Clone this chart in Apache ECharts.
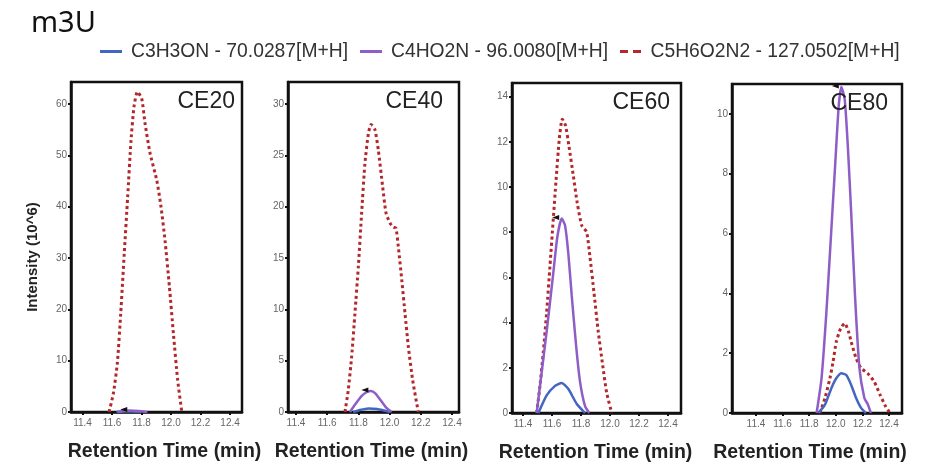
<!DOCTYPE html>
<html>
<head>
<meta charset="utf-8">
<script src="https://cdn.jsdelivr.net/npm/echarts@6/dist/echarts.min.js"></script>
<style>
  html, body { margin: 0; padding: 0; background: #fff; }
  #chart { width: 943px; height: 468px; }
</style>
</head>
<body>
<div id="chart"></div>
<script>
// Extracted ion chromatograms for m3U at four collision energies.
// Each trace is [retention time (min), intensity (10^6)].
const compoundNames = [
  'C3H3ON - 70.0287[M+H]',
  'C4HO2N - 96.0080[M+H]',
  'C5H6O2N2 - 127.0502[M+H]'
];
const panelLabels = ['CE20', 'CE40', 'CE60', 'CE80'];
const timeTicks = [11.4, 11.6, 11.8, 12.0, 12.2, 12.4];
const ce20Ticks = [0, 10, 20, 30, 40, 50, 60];
const ce40Ticks = [0, 5, 10, 15, 20, 25, 30];
const ce60Ticks = [0, 2, 4, 6, 8, 10, 12, 14];
const ce80Ticks = [0, 2, 4, 6, 8, 10];

// CE20
const ce20Blue = [[11.63, 0], [11.68, 0.12], [11.74, 0.12], [11.80, 0]];
const ce20Purple = [[11.64, 0], [11.68, 0.25], [11.72, 0.3], [11.78, 0.2], [11.84, 0]];
const ce20Red = [[11.58, 0], [11.609, 3.6], [11.636, 9.5], [11.659, 19.2], [11.683, 30.9],
  [11.706, 41.9], [11.729, 53.0], [11.749, 59.5], [11.772, 62.4], [11.801, 61.1],
  [11.824, 56.2], [11.858, 50.4], [11.903, 45.2], [11.932, 40.0], [11.959, 33.5],
  [11.989, 24.4], [12.016, 15.3], [12.045, 6.2], [12.073, 0]];

// CE40
const ce40Blue = [[11.767, 0], [11.81, 0.2], [11.864, 0.35], [11.92, 0.3], [11.97, 0.12], [12.003, 0]];
const ce40Purple = [[11.746, 0], [11.78, 0.75], [11.82, 1.55], [11.855, 1.95], [11.88, 2.05],
  [11.91, 1.8], [11.95, 1.0], [11.98, 0.4], [12.013, 0]];
const ce40Red = [[11.714, 0], [11.735, 2.1], [11.757, 5.4], [11.778, 9.6], [11.80, 14.2],
  [11.821, 19.4], [11.842, 24.2], [11.864, 27.1], [11.881, 28.0], [11.906, 27.5],
  [11.928, 25.5], [11.956, 21.9], [11.977, 19.4], [12.003, 18.4], [12.024, 18.0],
  [12.041, 17.9], [12.056, 16.1], [12.078, 12.9], [12.099, 9.6], [12.12, 6.4],
  [12.148, 3.1], [12.184, 0]];

// CE60
const ce60Blue = [[11.506, 0], [11.563, 0.78], [11.621, 1.2], [11.667, 1.33], [11.712, 1.07],
  [11.77, 0.41], [11.828, 0]];
const ce60Purple = [[11.494, 0], [11.563, 3.6], [11.609, 6.2], [11.637, 7.8], [11.667, 8.6],
  [11.69, 8.3], [11.712, 7.1], [11.736, 5.2], [11.766, 3.0], [11.793, 1.4], [11.828, 0.3],
  [11.857, 0]];
const ce60Red = [[11.494, 0], [11.517, 1.2], [11.54, 2.7], [11.563, 4.45], [11.586, 6.5],
  [11.609, 8.6], [11.628, 10.3], [11.65, 12.1], [11.671, 13.0], [11.694, 12.7],
  [11.717, 11.8], [11.747, 10.5], [11.774, 9.3], [11.805, 8.3], [11.839, 8.0],
  [11.862, 6.9], [11.89, 5.3], [11.919, 3.6], [11.95, 2.1], [11.977, 0.9], [12.012, 0]];

// CE80
const ce80Blue = [[11.869, 0], [11.919, 0.28], [11.967, 0.83], [12.004, 1.16], [12.042, 1.33],
  [12.079, 1.27], [12.116, 0.94], [12.153, 0.5], [12.19, 0.17], [12.227, 0]];
const ce80Purple = [[11.856, 0], [11.893, 1.16], [11.93, 3.4], [11.967, 6.15], [11.997, 8.4],
  [12.022, 10.25], [12.042, 10.9], [12.067, 10.5], [12.091, 8.9], [12.116, 6.7],
  [12.145, 3.9], [12.178, 1.5], [12.215, 0.5], [12.24, 0.3], [12.264, 0]];
const ce80Red = [[11.881, 0], [11.919, 0.5], [11.956, 1.16], [11.98, 1.72], [12.004, 2.38],
  [12.037, 2.83], [12.067, 3.0], [12.096, 2.72], [12.116, 2.38], [12.153, 1.83],
  [12.19, 1.5], [12.239, 1.33], [12.289, 1.05], [12.333, 0.61], [12.375, 0.22], [12.407, 0]];

const BLUE = '#4466c2';
const PURPLE = '#8f5dc6';
const RED = '#b3282c';
const FONT = '"Liberation Sans", Arial, sans-serif';

// Panel frames and axis ranges
const panels = [
  { grid: { left: 71, top: 82, width: 171, height: 330 }, x: [11.322, 12.481], y: [0, 64.3], yTicks: ce20Ticks,
    traces: [ce20Blue, ce20Purple, ce20Red], labelRight: 708, namePad: [0, 0, 0, 16] },
  { grid: { left: 288, top: 82, width: 171, height: 330 }, x: [11.349, 12.445], y: [0, 32.14], yTicks: ce40Ticks,
    traces: [ce40Blue, ce40Purple, ce40Red], labelRight: 500, namePad: [0, 4, 0, 0] },
  { grid: { left: 512, top: 83, width: 169, height: 331 }, x: [11.324, 12.49], y: [0, 14.6], yTicks: ce60Ticks,
    traces: [ce60Blue, ce60Purple, ce60Red], labelRight: 273, namePad: [0, 2, 0, 0] },
  { grid: { left: 732, top: 84, width: 170, height: 331 }, x: [11.22, 12.498], y: [0, 11.0], yTicks: ce80Ticks,
    traces: [ce80Blue, ce80Purple, ce80Red], labelRight: 55, namePad: [0, 14, 0, 0] }
];

// Apex of a trace, used to place the small peak marker
function apex(d) {
  return d.reduce((a, b) => (b[1] > a[1] ? b : a));
}

const grids = [], xAxes = [], yAxes = [], series = [];
const titles = [{
  text: 'm3U', left: 31, top: 9, padding: 0,
  textStyle: { fontSize: 29, fontWeight: 'normal', color: '#111', fontFamily: '"Noto Sans", sans-serif' }
}];

panels.forEach((p, i) => {
  grids.push(Object.assign({ show: true, borderColor: '#111', borderWidth: 2.5, backgroundColor: '#fff' }, p.grid));
  xAxes.push({
    type: 'value', gridIndex: i, min: p.x[0], max: p.x[1],
    name: 'Retention Time (min)', nameLocation: 'middle', nameGap: 30,
    nameTextStyle: { fontSize: 19.5, fontWeight: 'bold', color: '#222', fontFamily: FONT, padding: p.namePad },
    axisLine: { show: true, onZero: false, lineStyle: { color: '#111', width: 2.5 } },
    axisTick: { show: true, length: 3, customValues: timeTicks, lineStyle: { color: '#111', width: 2 } },
    axisLabel: { customValues: timeTicks, color: '#666', fontSize: 10, margin: 6, fontFamily: FONT,
      formatter: v => v.toFixed(1) },
    splitLine: { show: false }
  });
  yAxes.push({
    type: 'value', gridIndex: i, min: p.y[0], max: p.y[1],
    name: i === 0 ? 'Intensity (10^6)' : '', nameLocation: 'middle', nameGap: 31,
    nameTextStyle: { fontSize: 15, fontWeight: 'bold', color: '#222', fontFamily: FONT, padding: [0, 20, 0, 0] },
    axisLine: { show: true, lineStyle: { color: '#111', width: 2.5 } },
    axisTick: { show: true, length: 3, customValues: p.yTicks, lineStyle: { color: '#111', width: 2 } },
    axisLabel: { customValues: p.yTicks, color: '#666', fontSize: 10, margin: 4, fontFamily: FONT },
    splitLine: { show: false }
  });
  const styles = [
    { color: BLUE, width: 2.5, type: 'solid' },
    { color: PURPLE, width: 2.5, type: 'solid' },
    { color: RED, width: 3, type: [3, 3] }
  ];
  p.traces.forEach((d, k) => {
    const s = {
      type: 'line', name: compoundNames[k], xAxisIndex: i, yAxisIndex: i,
      data: d, symbol: 'none', smooth: 0.2, z: k === 2 ? 3 : 4,
      color: styles[k].color,
      lineStyle: styles[k]
    };
    if (k === 1) {
      // small black apex flag on the C4HO2N trace
      s.markPoint = {
        symbol: 'triangle', symbolSize: [5, 7], symbolRotate: 90, symbolOffset: [-6, -1],
        itemStyle: { color: '#111' }, label: { show: false }, silent: true,
        data: [{ coord: apex(d) }]
      };
    }
    series.push(s);
  });
  titles.push({
    text: panelLabels[i], right: p.labelRight, top: p.grid.top + 8, padding: 0,
    textStyle: { fontSize: 23, fontWeight: 'normal', color: '#222', fontFamily: FONT }
  });
});

const chart = echarts.init(document.getElementById('chart'), null, { renderer: 'canvas' });
chart.setOption({
  animation: false,
  backgroundColor: '#fff',
  title: titles,
  legend: {
    left: 95, top: 37, itemWidth: 22, itemHeight: 3, itemGap: 12,
    textStyle: { fontSize: 19.3, color: '#333', fontFamily: FONT, padding: [0, 0, 0, 4] },
    data: [
      { name: compoundNames[0], icon: 'rect', itemStyle: { color: BLUE } },
      { name: compoundNames[1], icon: 'rect', itemStyle: { color: PURPLE } },
      { name: compoundNames[2], icon: 'path://M0,0h8v3h-8z M13,0h8v3h-8z', itemStyle: { color: RED } }
    ]
  },
  grid: grids,
  xAxis: xAxes,
  yAxis: yAxes,
  series: series
});
</script>
</body>
</html>
